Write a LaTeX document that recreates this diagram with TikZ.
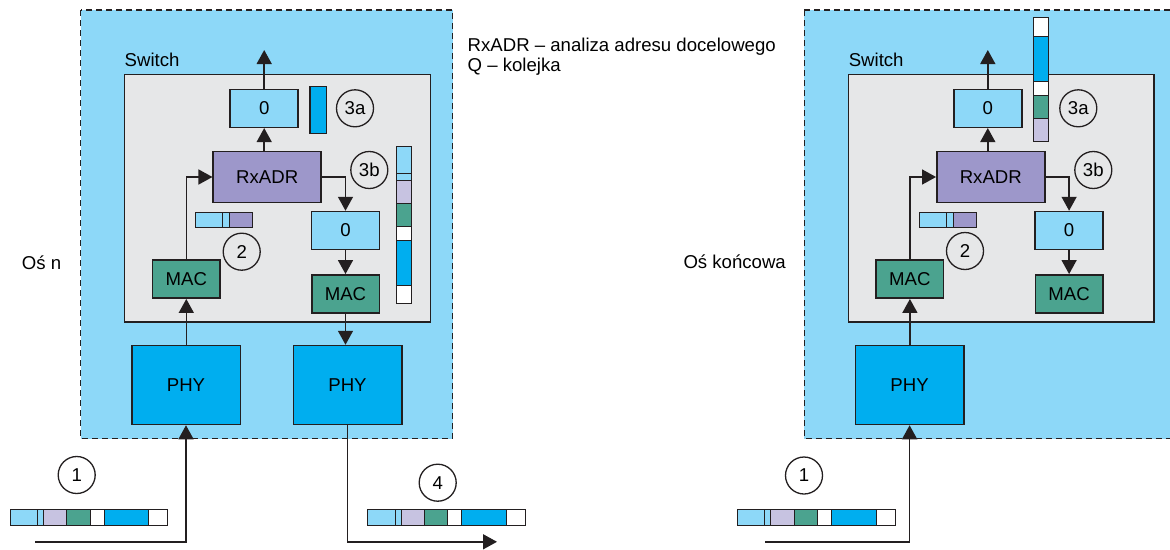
\documentclass[tikz,border=0pt]{standalone}
\usepackage{fontspec}
\setmainfont{Liberation Sans}
\usetikzlibrary{arrows.meta,calc}
\definecolor{bgblue}{HTML}{8DD8F8}
\definecolor{swgray}{HTML}{E6E7E8}
\definecolor{phyblue}{HTML}{00AEEF}
\definecolor{rxpurple}{HTML}{9D97CA}
\definecolor{macgreen}{HTML}{4BA38F}
\definecolor{lav}{HTML}{C7C3E1}
\definecolor{ink}{HTML}{231F20}
\newcommand\myfont{\fontsize{18.6}{22}\selectfont}
\tikzset{
 lbl/.style={font=\myfont, inner sep=0pt},
 blk/.style={draw=ink, line width=1.5pt, inner sep=0pt, font=\myfont},
 qbox/.style={blk, fill=bgblue, minimum width=68pt, minimum height=38pt},
 rxbox/.style={blk, fill=rxpurple, minimum width=108pt, minimum height=51pt},
 macbox/.style={blk, fill=macgreen, minimum width=67.5pt, minimum height=38pt},
 phybox/.style={blk, fill=phyblue, minimum width=108.5pt, minimum height=79pt},
 num/.style={circle, draw=ink, fill=none, line width=1.3pt, minimum size=37pt, inner sep=0pt, font=\myfont},
 arr/.style={draw=ink, line width=1.5pt, -{Triangle[length=14pt,width=15pt]}},
 seg/.style={draw=ink, line width=1pt},
 outerbox/.style={draw=ink, fill=bgblue, line width=1.3pt, dash pattern=on 6pt off 4pt},
 swbox/.style={draw=ink, fill=swgray, line width=1.5pt},
}
\newcommand\hpkt[2]{%
 \foreach \a/\b/\c in {0/27.3/bgblue,27.3/33.3/bgblue,33.3/56.7/lav,56.7/80/macgreen,80/94/white,94/138.7/phyblue,138.7/157.7/white}
 {\filldraw[seg,fill=\c] ({#1+\a},#2) rectangle ({#1+\b},{#2+15.7});}}
\newcommand\smallpkt[2]{%
 \foreach \a/\b/\c in {0/27.7/bgblue,27.7/34/bgblue,34/57.3/rxpurple}
 {\filldraw[seg,fill=\c] ({#1+\a},#2) rectangle ({#1+\b},{#2+15});}}
\begin{document}
\begin{tikzpicture}[x=1pt,y=-1pt]
\clip (0,0) rectangle (1170,549);
\fill[white] (0,0) rectangle (1170,549);

% ---------- left: Os n ----------
\draw[outerbox] (80.8,10) rectangle (452.8,438.5);
\draw[swbox] (124.3,74.3) rectangle (430.7,322);
\node[lbl, anchor=base west] (swL) at (124.5,66.5) {Switch};

\node[qbox] (t0L) at (264.2,108.3) {0};
\node[rxbox] (rxL) at (267.2,177) {RxADR};
\node[qbox] (q0L) at (345.5,230.5) {0};
\node[macbox] (maL) at (186.3,279.2) {MAC};
\node[macbox] (mbL) at (345.5,293.8) {MAC};
\node[phybox] (paL) at (186,385) {PHY};
\node[phybox] (pbL) at (347.5,385) {PHY};
\node[num] (c3aL) at (355,108.3) {3a};
\node[num] (c3bL) at (369.3,170) {3b};
\node[num] (c2L) at (241.7,251.7) {2};
\node[num] (c1L) at (76.7,475) {1};
\node[num] (c4) at (437.7,482.7) {4};
\coordinate (outL) at (264.2,50);
\coordinate (inL) at (35,541.8);
\coordinate (exL) at (497,541.8);

\filldraw[seg, line width=1.3pt, fill=phyblue] (310,86.7) rectangle (326.7,133.3);
\foreach \a/\b/\c in {146/173.3/bgblue,173.3/180/bgblue,180/203.3/lav,203.3/226.7/macgreen,226.7/240/white,240/285/phyblue,285/303.3/white}
 {\filldraw[seg,fill=\c] (396,\a) rectangle (411,\b);}
\smallpkt{195}{212.7}
\hpkt{10}{509.3}
\hpkt{367.7}{509.3}

\draw[arr] (t0L.north) -- (outL);
\draw[arr] (rxL.north -| t0L) -- (t0L.south);
\draw[arr] (maL.north) |- (rxL.west);
\draw[arr] (rxL.east) -| (q0L.north);
\draw[arr] (q0L.south) -- (mbL.north);
\draw[arr] (paL.north -| maL) -- (maL.south);
\draw[arr] (mbL.south) -- (pbL.north -| mbL);
\draw[arr] (inL) -| (paL.south);
\draw[arr] (pbL.south) |- (exL);

\node[lbl, anchor=base west] (osn) at (21.7,269) {Oś n};
\node[lbl, anchor=base west] (leg1) at (467.5,51) {RxADR – analiza adresu docelowego};
\node[lbl, anchor=base west] (leg2) at (467.5,71) {Q – kolejka};
\node[lbl, anchor=base west] (osk) at (683.3,268.5) {Oś końcowa};

% ---------- right: Os koncowa ----------
\begin{scope}[xshift=723.6pt]
\draw[outerbox] (80.8,10) rectangle (470,438.5);
\draw[swbox] (124.7,74.3) rectangle (430.4,322);
\node[lbl, anchor=base west] (swR) at (125,66.5) {Switch};

\node[qbox] (t0R) at (264.2,108.3) {0};
\node[rxbox] (rxR) at (267.2,177) {RxADR};
\node[qbox] (q0R) at (345.5,230.5) {0};
\node[macbox] (maR) at (186.3,279.2) {MAC};
\node[macbox] (mbR) at (345.5,293.8) {MAC};
\node[phybox] (paR) at (186,385) {PHY};
\node[num] (c3aR) at (354.7,108.3) {3a};
\node[num] (c3bR) at (369.7,170) {3b};
\node[num] (c2R) at (241.4,251) {2};
\node[num] (c1R) at (80.4,475.5) {1};
\coordinate (outR) at (264.2,50);
\coordinate (inR) at (41.4,541.8);

\foreach \a/\b/\c in {17.3/36/white,36/81/phyblue,81/95/white,95/118.3/macgreen,118.3/141.7/lav}
 {\filldraw[seg,fill=\c] (309.7,\a) rectangle (324.7,\b);}
\smallpkt{195.4}{212.7}
\hpkt{13.7}{509.6}

\draw[arr] (t0R.north) -- (outR);
\draw[arr] (rxR.north -| t0R) -- (t0R.south);
\draw[arr] (maR.north) |- (rxR.west);
\draw[arr] (rxR.east) -| (q0R.north);
\draw[arr] (q0R.south) -- (mbR.north);
\draw[arr] (paR.north -| maR) -- (maR.south);
\draw[arr] (inR) -| (paR.south);
\end{scope}
\end{tikzpicture}
\end{document}
